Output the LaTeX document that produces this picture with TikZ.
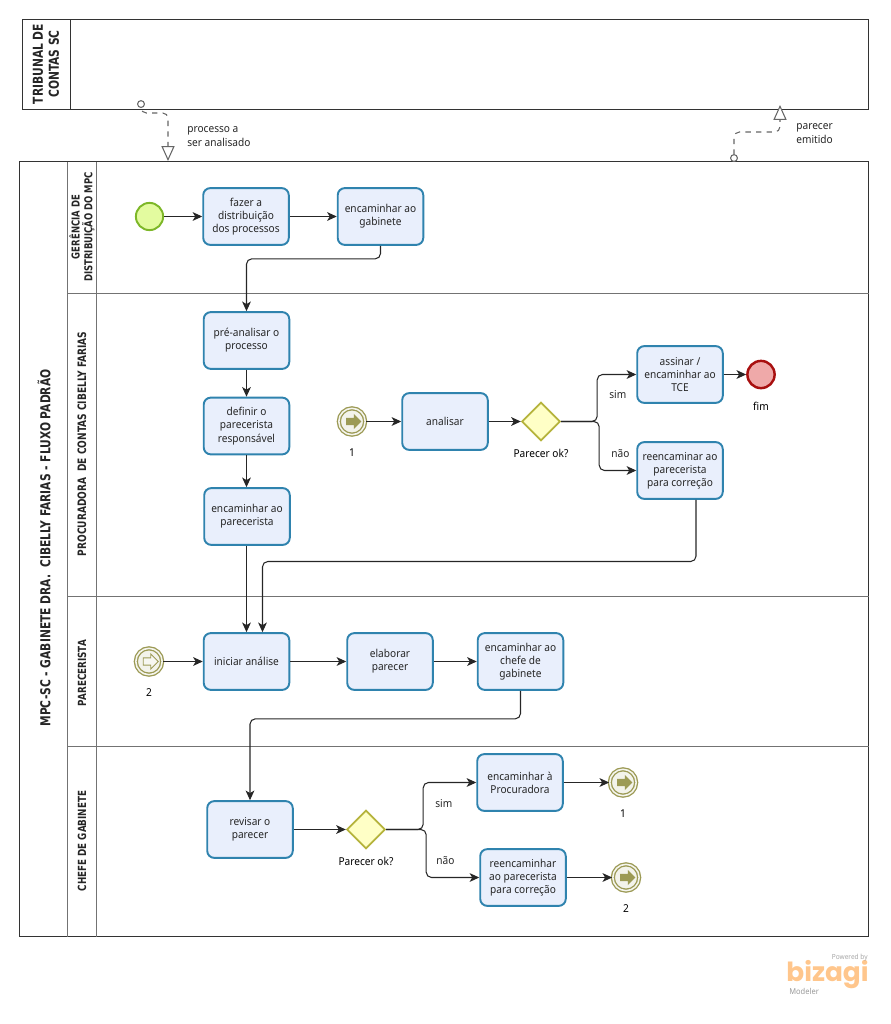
\documentclass[tikz,border=0pt]{standalone}
\usepackage{fontspec}
\setmainfont{Noto Sans}[FakeStretch=.93]
\newfontfamily\logofont{Poppins}
\newfontfamily\raiafont{DejaVu Sans}[FakeStretch=.78]
\usetikzlibrary{arrows.meta,calc,shapes.geometric,shapes.arrows}
\definecolor{taskblue}{HTML}{E9EFFC}
\definecolor{taskline}{HTML}{2F83AE}
\definecolor{olive}{HTML}{9C9A55}
\tikzset{
	tarefa/.style={draw=taskline,line width=1.1pt,fill=taskblue,rounded corners=4pt,minimum width=48.7pt,minimum height=32.3pt,inner sep=0pt,align=center,text=black!85},
	inicio/.style={circle,draw={rgb,255:red,125;green,183;blue,40},line width=1.1pt,fill={rgb,255:red,227;green,251;blue,159},minimum size=15.5pt,inner sep=0pt},
	fim/.style={circle,draw={rgb,255:red,168;green,15;blue,15},line width=1.4pt,fill={rgb,255:red,239;green,169;blue,169},minimum size=15.5pt,inner sep=0pt},
	decisao/.style={diamond,aspect=1,draw={rgb,255:red,181;green,179;blue,60},line width=1pt,fill={rgb,255:red,255;green,255;blue,198},minimum size=22pt,inner sep=0pt},
	elo/.style={circle,draw=olive,line width=.75pt,double=olive!10,double distance=.9pt,fill=olive!12,minimum size=15pt,inner sep=0pt},
	seta/.style={single arrow,minimum height=8.6pt,inner xsep=0pt,inner ysep=1.8pt,single arrow head extend=2.3pt,shape border uses incircle=false},
	fluxo/.style={line width=.6pt,black!85,rounded corners=3pt,-{Stealth[length=5.5pt,width=5pt,inset=1.5pt]}},
	mensagem/.style={line width=.6pt,black!60,dashed,rounded corners=3pt,{Circle[open,fill=white,length=4.5pt,width=4.5pt]}-{Triangle[open,fill=white,length=8.5pt,width=7.5pt]}},
	raia/.style={font=\fontsize{6.4pt}{7.2pt}\raiafont\bfseries,align=center,rotate=90,inner sep=0pt,text=black!85},
	nota/.style={align=left,anchor=west,inner sep=0pt,text=black!85},
}
\begin{document}
\begin{tikzpicture}[x=0.02cm,y=-0.02cm,font=\fontsize{6.2pt}{7.5pt}\selectfont,label distance=4pt]
	\useasboundingbox (0,0) rectangle (890,1024);
	% piscinas
	\draw[line width=.6pt,black!80] (22.5,19.5) rectangle (868.5,109.5);
	\draw[line width=.6pt,black!80] (70.5,19.5) -- (70.5,109.5);
	\node[raia,font=\fontsize{7.8pt}{9pt}\raiafont\bfseries] (tribunal) at (46,64) {TRIBUNAL DE\\CONTAS SC};
	\draw[line width=.6pt,black!80] (19.5,161.5) rectangle (868.5,936.5);
	\draw[line width=.55pt,black!55] (67.5,161.5) -- (67.5,936.5);
	\draw[line width=.55pt,black!55] (96.5,161.5) -- (96.5,936.5);
	\foreach \y in {293.5,596.5,746.5}
		\draw[line width=.55pt,black!55] (67.5,\y) -- (868.5,\y);
	\node[raia,font=\fontsize{7.8pt}{9pt}\raiafont\bfseries] (gabinete) at (44,548) {MPC-SC - GABINETE DRA.\ \ CIBELLY FARIAS - FLUXO PADRÃO};
	\node[raia,font=\fontsize{6.2pt}{7.2pt}\raiafont\bfseries] (gerencia) at (82,227) {GERÊNCIA DE\\DISTRIBUIÇÃO DO MPC};
	\node[raia,font=\fontsize{6.6pt}{7.2pt}\raiafont\bfseries] (procuradora) at (82,444) {PROCURADORA\ \ DE CONTAS CIBELLY FARIAS};
	\node[raia] (parecerista) at (82,673) {PARECERISTA};
	\node[raia] (chefe) at (82,841) {CHEFE DE GABINETE};
	% gerencia
	\node[inicio] (start) at (149.5,216.5) {};
	\node[tarefa] (distribuir) at (246,216.5) {fazer a\\distribuição\\dos processos};
	\node[tarefa] (gabin) at (380.5,216.5) {encaminhar ao\\gabinete};
	% procuradora
	\node[tarefa] (pre) at (246.5,340.5) {pré-analisar o\\processo};
	\node[tarefa] (definir) at (246.5,426) {definir o\\parecerista\\responsável};
	\node[tarefa] (encpar) at (247,516.5) {encaminhar ao\\parecerista};
	\node[elo,label=below:{1}] (eloum) at (352,421.5) {};
	\node[seta,fill=olive] (setaum) at (352,421.5) {};
	\node[tarefa] (analisar) at (445,421.5) {analisar};
	\node[decisao,label={[label distance=1pt]below:{Parecer ok?}}] (okproc) at (541,421.5) {};
	\node[tarefa] (assinar) at (680,374.5) {assinar /\\encaminhar ao\\TCE};
	\node[fim,label={[label distance=3.5pt]below:{fim}}] (end) at (761,374.5) {};
	\node[tarefa] (reenc) at (680,470.5) {reencaminar ao\\parecerista\\para correção};
	% parecerista
	\node[elo,label=below:{2}] (elodois) at (149,661.5) {};
	\node[seta,fill=olive!8,draw=olive,line width=.5pt] (setadois) at (149,661.5) {};
	\node[tarefa] (iniciar) at (246.5,661.5) {iniciar análise};
	\node[tarefa] (elaborar) at (390,661.5) {elaborar\\parecer};
	\node[tarefa] (encchefe) at (520.5,661.5) {encaminhar ao\\chefe de\\gabinete};
	% chefe de gabinete
	\node[tarefa] (revisar) at (250,829.5) {revisar o\\parecer};
	\node[decisao,label={[label distance=1pt]below:{Parecer ok?}}] (okchefe) at (366,829.5) {};
	\node[tarefa] (encproc) at (520,782.5) {encaminhar à\\Procuradora};
	\node[tarefa] (reencb) at (523,877.5) {reencaminhar\\ao parecerista\\para correção};
	\node[elo,label=below:{1}] (eloumb) at (623,782.5) {};
	\node[seta,fill=olive] (setaumb) at (623,782.5) {};
	\node[elo,label=below:{2}] (elodoisb) at (626,877.5) {};
	\node[seta,fill=olive] (setadoisb) at (626,877.5) {};
	% rotulos
	\node[nota] (lsimA) at (609,395) {sim};
	\node[nota] (lnaoA) at (611,454) {não};
	\node[nota] (lsimB) at (435,804) {sim};
	\node[nota] (lnaoB) at (436,861) {não};
	\node[nota] (lprocesso) at (187,136.5) {processo a\\[.4pt]ser analisado};
	\node[nota] (lparecer) at (796,134) {parecer\\[.4pt]emitido};
	% fluxos
	\draw[fluxo] (start) -- (distribuir);
	\draw[fluxo] (distribuir) -- (gabin);
	\draw[fluxo] (gabin.south) -- ++(0,13) -| (pre.north);
	\draw[fluxo] (pre) -- (definir);
	\draw[fluxo] (definir) -- (encpar.north -| definir);
	\draw[fluxo] (encpar.south -| iniciar) -- (iniciar);
	\draw[fluxo] (eloum) -- (analisar);
	\draw[fluxo] (analisar) -- (okproc);
	\draw[fluxo] (okproc.east) -- ++(36,0) |- (assinar.west);
	\draw[fluxo] (okproc.east) -- ++(38,0) |- (reenc.west);
	\draw[fluxo] (assinar) -- (end);
	\draw[fluxo] ($(reenc.south)+(16,0)$) |- (275,561.5) -| ($(iniciar.north)+(16,0)$);
	\draw[fluxo] (elodois) -- (iniciar);
	\draw[fluxo] (iniciar) -- (elaborar);
	\draw[fluxo] (elaborar) -- (encchefe);
	\draw[fluxo] (encchefe.south) -- ++(0,28) -| (revisar.north);
	\draw[fluxo] (revisar) -- (okchefe);
	\draw[fluxo] (okchefe.east) -- ++(37,0) |- (encproc.west);
	\draw[fluxo] (okchefe.east) -- ++(40,0) |- (reencb.west);
	\draw[fluxo] (encproc) -- (eloumb);
	\draw[fluxo] (reencb) -- (elodoisb);
	% mensagens
	\coordinate (saida) at (141,108);
	\coordinate (entrada) at (168,161);
	\coordinate (saidab) at (734,162);
	\coordinate (entradab) at (780,105);
	\draw[mensagem] (saida) -- ++(0,5) -| (entrada);
	\draw[mensagem] (saidab) |- (780,132) -- (entradab);
	% marca
	\node[anchor=east,inner sep=0pt,font=\fontsize{15pt}{15pt}\logofont\bfseries,text=orange!45] (bizagi) at (869,975) {bizagi};
	\node[anchor=east,inner sep=0pt,font=\fontsize{4pt}{4pt}\selectfont\bfseries,text=black!35] (powered) at (868,958) {Powered by};
	\node[anchor=west,inner sep=0pt,font=\fontsize{4.6pt}{5pt}\selectfont,text=black!40] (modeler) at (789,991.5) {Modeler};
\end{tikzpicture}
\end{document}
